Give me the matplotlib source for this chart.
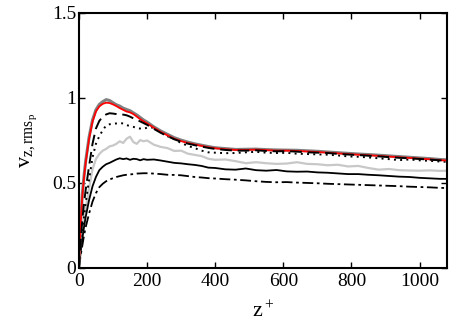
"""
Wall-normal rms velocity profiles, v_z,rms versus z+.
"""

import matplotlib
matplotlib.use("Agg")
import matplotlib.pyplot as plt

# Data
z_plus = [0, 5, 10, 15, 20, 30, 40, 50, 60, 70, 80, 90, 100, 110, 120, 130,
          140, 150, 160, 170, 180, 190, 200, 220, 240, 260, 280, 300, 320,
          340, 360, 380, 400, 430, 460, 490, 520, 550, 580, 610, 640, 670,
          700, 730, 760, 790, 820, 850, 880, 910, 940, 970, 1000, 1030, 1060,
          1080]

v_red = [0, 0.25, 0.42, 0.53, 0.62, 0.76, 0.86, 0.92, 0.95, 0.965, 0.972,
         0.97, 0.962, 0.952, 0.94, 0.93, 0.92, 0.915, 0.905, 0.89, 0.875,
         0.862, 0.85, 0.825, 0.80, 0.78, 0.76, 0.746, 0.735, 0.726, 0.718,
         0.71, 0.704, 0.698, 0.694, 0.694, 0.696, 0.693, 0.69, 0.69, 0.688,
         0.685, 0.682, 0.678, 0.674, 0.67, 0.666, 0.663, 0.659, 0.655, 0.651,
         0.647, 0.643, 0.639, 0.634, 0.632]

v_gray = [0, 0.26, 0.43, 0.54, 0.63, 0.77, 0.87, 0.93, 0.962, 0.978, 0.99,
          0.985, 0.972, 0.96, 0.952, 0.94, 0.932, 0.925, 0.912, 0.9, 0.885,
          0.87, 0.858, 0.83, 0.806, 0.786, 0.766, 0.752, 0.74, 0.73, 0.722,
          0.714, 0.707, 0.702, 0.697, 0.698, 0.699, 0.696, 0.694, 0.693,
          0.692, 0.689, 0.686, 0.682, 0.678, 0.674, 0.67, 0.667, 0.663,
          0.659, 0.655, 0.651, 0.647, 0.643, 0.638, 0.636]

v_dashed = [0, 0.15, 0.28, 0.38, 0.46, 0.6, 0.73, 0.82, 0.865, 0.89, 0.903,
            0.91, 0.908, 0.905, 0.9, 0.902, 0.898, 0.89, 0.88, 0.87, 0.862,
            0.852, 0.842, 0.818, 0.795, 0.775, 0.757, 0.742, 0.731, 0.722,
            0.714, 0.706, 0.7, 0.694, 0.69, 0.69, 0.692, 0.688, 0.686, 0.687,
            0.684, 0.68, 0.678, 0.676, 0.671, 0.667, 0.664, 0.66, 0.656,
            0.652, 0.648, 0.645, 0.641, 0.637, 0.633, 0.63]

v_dotted = [0, 0.12, 0.22, 0.3, 0.38, 0.52, 0.65, 0.73, 0.775, 0.81, 0.838,
            0.845, 0.848, 0.85, 0.852, 0.85, 0.84, 0.835, 0.83, 0.822, 0.82,
            0.818, 0.825, 0.826, 0.8, 0.775, 0.757, 0.735, 0.718, 0.705,
            0.69, 0.68, 0.678, 0.675, 0.676, 0.68, 0.683, 0.678, 0.676,
            0.677, 0.672, 0.67, 0.668, 0.666, 0.662, 0.656, 0.654, 0.65,
            0.645, 0.64, 0.634, 0.638, 0.633, 0.63, 0.626, 0.624]

v_light = [0, 0.11, 0.2, 0.28, 0.35, 0.47, 0.58, 0.64, 0.67, 0.69, 0.70,
           0.715, 0.72, 0.73, 0.745, 0.735, 0.76, 0.772, 0.74, 0.73, 0.752,
           0.745, 0.75, 0.725, 0.712, 0.705, 0.688, 0.69, 0.672, 0.665,
           0.658, 0.642, 0.636, 0.638, 0.628, 0.616, 0.622, 0.616, 0.612,
           0.614, 0.622, 0.612, 0.61, 0.604, 0.607, 0.597, 0.6, 0.588, 0.578,
           0.582, 0.575, 0.573, 0.572, 0.574, 0.571, 0.572]

v_solid = [0, 0.09, 0.17, 0.24, 0.3, 0.4, 0.48, 0.535, 0.575, 0.595, 0.61,
           0.618, 0.628, 0.638, 0.645, 0.64, 0.644, 0.636, 0.642, 0.64, 0.633,
           0.64, 0.636, 0.638, 0.632, 0.625, 0.618, 0.615, 0.61, 0.606, 0.6,
           0.59, 0.588, 0.58, 0.578, 0.585, 0.575, 0.572, 0.576, 0.568,
           0.566, 0.567, 0.562, 0.56, 0.556, 0.552, 0.552, 0.548, 0.545,
           0.541, 0.537, 0.535, 0.53, 0.527, 0.524, 0.524]

v_dashdot = [0, 0.07, 0.13, 0.19, 0.24, 0.32, 0.39, 0.44, 0.475, 0.495,
             0.51, 0.52, 0.528, 0.535, 0.54, 0.545, 0.548, 0.55, 0.552,
             0.555, 0.556, 0.557, 0.557, 0.555, 0.552, 0.548, 0.547, 0.545,
             0.54, 0.535, 0.532, 0.528, 0.526, 0.522, 0.519, 0.515, 0.51,
             0.506, 0.504, 0.505, 0.502, 0.5, 0.498, 0.495, 0.493, 0.491,
             0.489, 0.487, 0.485, 0.483, 0.481, 0.478, 0.476, 0.474, 0.471,
             0.47]

x_ticks = [0, 200, 400, 600, 800, 1000]
y_ticks = [0, 0.5, 1, 1.5]

plt.rcParams["font.family"] = ["Liberation Serif", "DejaVu Serif"]
plt.rcParams["mathtext.fontset"] = "custom"
plt.rcParams["mathtext.rm"] = "Liberation Serif"
plt.rcParams["mathtext.it"] = "Liberation Serif"

fig = plt.figure(figsize=(4.64, 3.32), dpi=100)
ax = fig.add_axes([0.170, 0.193, 0.793, 0.768])

ax.plot(z_plus, v_light, color="#c8c8c8", linewidth=1.6)
ax.plot(z_plus, v_dashdot, color="black", linewidth=1.3, linestyle=(0, (6, 2, 1.5, 2)))
ax.plot(z_plus, v_solid, color="black", linewidth=1.3)
ax.plot(z_plus, v_dotted, color="black", linewidth=1.4, linestyle=(0, (1, 2.2)))
ax.plot(z_plus, v_gray, color="#808080", linewidth=2.2)
ax.plot(z_plus, v_red, color="red", linewidth=1.3)
ax.plot(z_plus, v_dashed, color="black", linewidth=1.4, linestyle=(0, (6, 3)))

ax.set_xlim(0, 1080)
ax.set_ylim(0, 1.5)
ax.set_xticks(x_ticks)
ax.set_yticks(y_ticks)
ax.set_yticklabels(["0", "0.5", "1", "1.5"])
ax.tick_params(direction="in", top=True, right=True, length=4, width=1,
               labelsize=14, pad=2)
ax.tick_params(axis="x", pad=4)
for spine in ax.spines.values():
    spine.set_linewidth(1.5)

ax.set_xlabel(r"$\mathrm{z^+}$", fontsize=16, labelpad=8)
ax.set_ylabel(r"$\mathrm{v_{z,rms_p}}$", fontsize=16, labelpad=9)

plt.savefig("out.png", dpi=100)
print("Saved: out.png")
